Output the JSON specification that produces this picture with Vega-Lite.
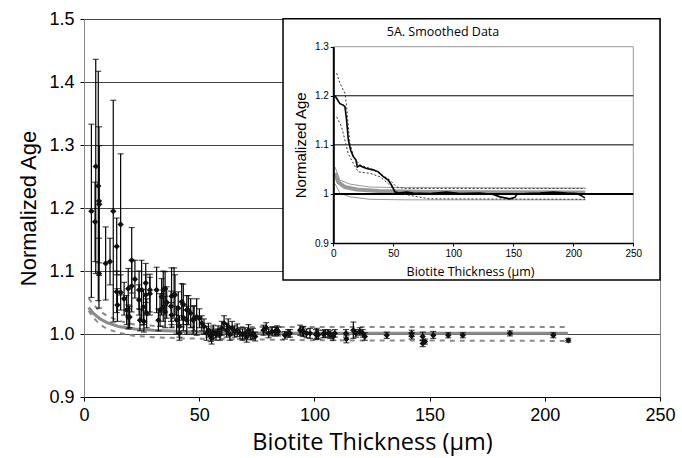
{
"$schema":"https://vega.github.io/schema/vega-lite/v6.json",
"width":576,"height":378,
"autosize":{"type":"none"},
"padding":{"left":84,"top":19,"right":22,"bottom":61},
"background":"white",
"config":{"view":{"stroke":"#888","strokeWidth":1},"font":"Liberation Sans"},
"datasets":{
"one":[{}],
"main":[
{"x":3.2,"y":1.195,"lo":1.058,"hi":1.333},
{"x":4.8,"y":1.178,"lo":1.115,"hi":1.241},
{"x":5.1,"y":1.266,"lo":1.096,"hi":1.436},
{"x":6.2,"y":1.235,"lo":1.053,"hi":1.417},
{"x":6.5,"y":1.211,"lo":1.093,"hi":1.329},
{"x":6.6,"y":1.206,"lo":1.113,"hi":1.299},
{"x":6.5,"y":1.096,"lo":1.041,"hi":1.152},
{"x":9.4,"y":1.112,"lo":1.054,"hi":1.170},
{"x":11.3,"y":1.115,"lo":1.078,"hi":1.152},
{"x":12.7,"y":1.195,"lo":1.019,"hi":1.371},
{"x":14.2,"y":1.139,"lo":1.094,"hi":1.184},
{"x":15.9,"y":1.174,"lo":1.062,"hi":1.286},
{"x":14.2,"y":1.067,"lo":1.034,"hi":1.100},
{"x":14.5,"y":1.046,"lo":1.020,"hi":1.072},
{"x":15.9,"y":1.066,"lo":1.038,"hi":1.094},
{"x":17.4,"y":1.056,"lo":1.030,"hi":1.082},
{"x":18.5,"y":1.038,"lo":1.015,"hi":1.061},
{"x":19.2,"y":1.027,"lo":1.008,"hi":1.046},
{"x":19.8,"y":1.027,"lo":1.010,"hi":1.044},
{"x":19.2,"y":1.072,"lo":1.040,"hi":1.104},
{"x":20.7,"y":1.076,"lo":1.035,"hi":1.117},
{"x":20.7,"y":1.117,"lo":1.065,"hi":1.169},
{"x":22.1,"y":1.087,"lo":1.057,"hi":1.117},
{"x":23.9,"y":1.070,"lo":1.040,"hi":1.100},
{"x":23.9,"y":1.054,"lo":1.030,"hi":1.078},
{"x":25.0,"y":1.070,"lo":1.023,"hi":1.117},
{"x":24.3,"y":1.022,"lo":1.005,"hi":1.039},
{"x":25.8,"y":1.043,"lo":1.015,"hi":1.071},
{"x":26.8,"y":1.081,"lo":1.050,"hi":1.112},
{"x":26.8,"y":1.062,"lo":1.030,"hi":1.094},
{"x":27.2,"y":1.033,"lo":1.010,"hi":1.056},
{"x":26.0,"y":1.020,"lo":1.003,"hi":1.037},
{"x":28.6,"y":1.070,"lo":1.035,"hi":1.095},
{"x":28.6,"y":1.064,"lo":1.030,"hi":1.090},
{"x":31.5,"y":1.070,"lo":1.034,"hi":1.106},
{"x":32.3,"y":1.022,"lo":1.005,"hi":1.040},
{"x":33.0,"y":1.038,"lo":1.012,"hi":1.064},
{"x":33.7,"y":1.059,"lo":1.030,"hi":1.088},
{"x":34.4,"y":1.070,"lo":1.040,"hi":1.100},
{"x":35.2,"y":1.072,"lo":1.045,"hi":1.099},
{"x":34.4,"y":1.042,"lo":1.020,"hi":1.064},
{"x":35.2,"y":1.035,"lo":1.010,"hi":1.060},
{"x":35.9,"y":1.050,"lo":1.025,"hi":1.075},
{"x":37.8,"y":1.044,"lo":1.020,"hi":1.068},
{"x":38.0,"y":1.030,"lo":1.010,"hi":1.050},
{"x":38.0,"y":1.060,"lo":1.015,"hi":1.105},
{"x":39.1,"y":1.063,"lo":1.025,"hi":1.105},
{"x":39.5,"y":1.062,"lo":1.030,"hi":1.094},
{"x":40.2,"y":1.022,"lo":1.000,"hi":1.044},
{"x":40.9,"y":1.041,"lo":1.015,"hi":1.067},
{"x":41.4,"y":1.012,"lo":0.995,"hi":1.029},
{"x":41.4,"y":1.001,"lo":0.990,"hi":1.012},
{"x":42.4,"y":1.051,"lo":1.022,"hi":1.080},
{"x":43.1,"y":1.047,"lo":1.015,"hi":1.079},
{"x":43.1,"y":1.026,"lo":1.005,"hi":1.047},
{"x":44.6,"y":1.022,"lo":1.000,"hi":1.044},
{"x":44.6,"y":1.038,"lo":1.015,"hi":1.061},
{"x":45.3,"y":1.038,"lo":1.015,"hi":1.061},
{"x":46.3,"y":1.033,"lo":1.010,"hi":1.056},
{"x":47.4,"y":1.022,"lo":1.000,"hi":1.044},
{"x":47.8,"y":1.025,"lo":1.005,"hi":1.045},
{"x":48.9,"y":1.027,"lo":0.998,"hi":1.056},
{"x":50.1,"y":1.025,"lo":1.010,"hi":1.040},
{"x":51.1,"y":1.017,"lo":1.005,"hi":1.029},
{"x":52.1,"y":1.012,"lo":1.000,"hi":1.024},
{"x":53.2,"y":1.001,"lo":0.990,"hi":1.012},
{"x":54.0,"y":1.006,"lo":0.995,"hi":1.017},
{"x":55.0,"y":0.998,"lo":0.988,"hi":1.008},
{"x":55.4,"y":0.993,"lo":0.984,"hi":1.002},
{"x":56.1,"y":1.004,"lo":0.994,"hi":1.014},
{"x":57.3,"y":0.999,"lo":0.990,"hi":1.008},
{"x":58.2,"y":1.004,"lo":0.995,"hi":1.013},
{"x":59.0,"y":0.999,"lo":0.990,"hi":1.008},
{"x":59.8,"y":1.009,"lo":0.998,"hi":1.020},
{"x":60.8,"y":1.017,"lo":1.005,"hi":1.029},
{"x":61.9,"y":1.006,"lo":0.995,"hi":1.017},
{"x":62.6,"y":1.012,"lo":1.000,"hi":1.024},
{"x":63.3,"y":0.999,"lo":0.990,"hi":1.008},
{"x":64.3,"y":1.009,"lo":0.998,"hi":1.020},
{"x":65.4,"y":1.004,"lo":0.995,"hi":1.013},
{"x":66.5,"y":1.006,"lo":0.996,"hi":1.016},
{"x":67.7,"y":1.001,"lo":0.992,"hi":1.010},
{"x":68.8,"y":0.999,"lo":0.990,"hi":1.008},
{"x":69.9,"y":1.001,"lo":0.992,"hi":1.010},
{"x":70.6,"y":0.995,"lo":0.987,"hi":1.003},
{"x":71.4,"y":1.006,"lo":0.997,"hi":1.015},
{"x":72.4,"y":0.999,"lo":0.991,"hi":1.007},
{"x":73.3,"y":1.001,"lo":0.993,"hi":1.009},
{"x":74.3,"y":0.996,"lo":0.989,"hi":1.003},
{"x":77.9,"y":1.006,"lo":0.998,"hi":1.014},
{"x":79.1,"y":1.010,"lo":1.002,"hi":1.018},
{"x":80.1,"y":1.001,"lo":0.994,"hi":1.008},
{"x":81.6,"y":1.004,"lo":0.997,"hi":1.011},
{"x":83.0,"y":1.004,"lo":0.997,"hi":1.011},
{"x":83.8,"y":1.006,"lo":0.999,"hi":1.013},
{"x":84.3,"y":1.004,"lo":0.997,"hi":1.011},
{"x":87.2,"y":0.998,"lo":0.992,"hi":1.004},
{"x":88.6,"y":1.001,"lo":0.995,"hi":1.007},
{"x":89.4,"y":1.001,"lo":0.995,"hi":1.007},
{"x":93.8,"y":1.006,"lo":0.998,"hi":1.014},
{"x":94.9,"y":1.004,"lo":0.997,"hi":1.011},
{"x":95.2,"y":1.004,"lo":0.996,"hi":1.012},
{"x":96.6,"y":1.001,"lo":0.994,"hi":1.008},
{"x":98.1,"y":1.001,"lo":0.993,"hi":1.009},
{"x":100.7,"y":0.999,"lo":0.991,"hi":1.007},
{"x":101.0,"y":1.001,"lo":0.993,"hi":1.009},
{"x":101.7,"y":0.999,"lo":0.992,"hi":1.006},
{"x":103.9,"y":1.000,"lo":0.994,"hi":1.006},
{"x":104.6,"y":1.001,"lo":0.995,"hi":1.007},
{"x":106.0,"y":1.001,"lo":0.995,"hi":1.007},
{"x":106.8,"y":0.999,"lo":0.993,"hi":1.005},
{"x":108.2,"y":0.996,"lo":0.990,"hi":1.002},
{"x":108.9,"y":1.001,"lo":0.995,"hi":1.007},
{"x":113.7,"y":1.001,"lo":0.995,"hi":1.007},
{"x":113.9,"y":0.992,"lo":0.986,"hi":0.998},
{"x":116.9,"y":1.006,"lo":0.993,"hi":1.019},
{"x":118.0,"y":1.001,"lo":0.995,"hi":1.007},
{"x":119.7,"y":1.004,"lo":0.998,"hi":1.010},
{"x":121.0,"y":1.001,"lo":0.995,"hi":1.007},
{"x":121.9,"y":0.996,"lo":0.990,"hi":1.002},
{"x":131.4,"y":0.998,"lo":0.993,"hi":1.003},
{"x":142.2,"y":0.997,"lo":0.992,"hi":1.002},
{"x":142.2,"y":1.001,"lo":0.996,"hi":1.006},
{"x":147.0,"y":0.996,"lo":0.990,"hi":1.003},
{"x":147.0,"y":0.985,"lo":0.980,"hi":0.990},
{"x":148.0,"y":0.988,"lo":0.984,"hi":0.992},
{"x":151.6,"y":0.998,"lo":0.993,"hi":1.004},
{"x":158.1,"y":0.998,"lo":0.994,"hi":1.002},
{"x":164.4,"y":0.998,"lo":0.994,"hi":1.002},
{"x":184.9,"y":1.001,"lo":0.997,"hi":1.005},
{"x":203.7,"y":0.998,"lo":0.994,"hi":1.002},
{"x":210.2,"y":0.990,"lo":0.987,"hi":0.993}
],
"curves":[
{"s":"upper","x":2,"y":1.057},{"s":"upper","x":4,"y":1.047},{"s":"upper","x":7,"y":1.036},{"s":"upper","x":10,"y":1.029},{"s":"upper","x":15,"y":1.021},{"s":"upper","x":22,"y":1.015},{"s":"upper","x":30,"y":1.013},{"s":"upper","x":43,"y":1.011},{"s":"upper","x":60,"y":1.011},{"s":"upper","x":210,"y":1.011},
{"s":"mid","x":2,"y":1.042},{"s":"mid","x":4,"y":1.033},{"s":"mid","x":7,"y":1.024},{"s":"mid","x":10,"y":1.018},{"s":"mid","x":15,"y":1.012},{"s":"mid","x":22,"y":1.008},{"s":"mid","x":30,"y":1.006},{"s":"mid","x":43,"y":1.004},{"s":"mid","x":60,"y":1.002},{"s":"mid","x":100,"y":1.001},{"s":"mid","x":210,"y":1.001},
{"s":"lower","x":2,"y":1.037},{"s":"lower","x":4,"y":1.026},{"s":"lower","x":7,"y":1.015},{"s":"lower","x":10,"y":1.008},{"s":"lower","x":15,"y":1.002},{"s":"lower","x":22,"y":0.997},{"s":"lower","x":30,"y":0.995},{"s":"lower","x":43,"y":0.993},{"s":"lower","x":60,"y":0.992},{"s":"lower","x":100,"y":0.990},{"s":"lower","x":210,"y":0.989}
],
"smooth":[
{"x":1.4,"y":1.200},{"x":5.5,"y":1.184},{"x":8.3,"y":1.181},{"x":9.7,"y":1.178},{"x":11.1,"y":1.150},{"x":12.5,"y":1.110},{"x":14.5,"y":1.089},{"x":16.7,"y":1.076},{"x":18.9,"y":1.069},{"x":20.0,"y":1.055},{"x":22.2,"y":1.058},{"x":24.4,"y":1.055},{"x":27.8,"y":1.052},{"x":33.3,"y":1.049},{"x":37.5,"y":1.045},{"x":41.7,"y":1.035},{"x":45.8,"y":1.028},{"x":48.6,"y":1.018},{"x":51.4,"y":1.004},{"x":54.2,"y":1.002},{"x":61.1,"y":1.004},{"x":66.7,"y":1.002},{"x":80.6,"y":1.001},{"x":94.4,"y":1.004},{"x":105.6,"y":1.001},{"x":122.2,"y":1.002},{"x":133.3,"y":0.999},{"x":138.9,"y":0.994},{"x":147.2,"y":0.990},{"x":151.4,"y":0.993},{"x":152.8,"y":0.999},{"x":161.1,"y":1.001},{"x":172.2,"y":1.002},{"x":183.3,"y":1.004},{"x":194.4,"y":1.002},{"x":202.8,"y":1.001},{"x":206.9,"y":0.996},{"x":209.7,"y":0.992}
],
"band":[
{"s":"hi","x":2.8,"y":1.246},{"s":"hi","x":5.6,"y":1.225},{"s":"hi","x":9.75,"y":1.205},{"s":"hi","x":11.1,"y":1.178},{"s":"hi","x":12.5,"y":1.137},{"s":"hi","x":13.9,"y":1.103},{"s":"hi","x":16.7,"y":1.076},{"s":"hi","x":22.2,"y":1.059},{"s":"hi","x":30.6,"y":1.052},{"s":"hi","x":38.9,"y":1.042},{"s":"hi","x":47.2,"y":1.028},{"s":"hi","x":52.8,"y":1.014},{"s":"hi","x":60,"y":1.011},{"s":"hi","x":210,"y":1.011},
{"s":"lo","x":2.8,"y":1.157},{"s":"lo","x":6.9,"y":1.137},{"s":"lo","x":12.5,"y":1.082},{"s":"lo","x":16.7,"y":1.062},{"s":"lo","x":20.8,"y":1.045},{"s":"lo","x":30.6,"y":1.042},{"s":"lo","x":38.9,"y":1.035},{"s":"lo","x":45.8,"y":1.021},{"s":"lo","x":52.8,"y":1.004},{"s":"lo","x":63.9,"y":0.997},{"s":"lo","x":80,"y":0.990},{"s":"lo","x":210,"y":0.989}
],
"igray":[
{"s":"up","x":1.4,"y":1.055},{"s":"up","x":5.6,"y":1.028},{"s":"up","x":13.9,"y":1.020},{"s":"up","x":30.6,"y":1.014},{"s":"up","x":50,"y":1.013},{"s":"up","x":210,"y":1.012},
{"s":"dn","x":1.4,"y":1.021},{"s":"dn","x":5.6,"y":1.001},{"s":"dn","x":13.9,"y":0.994},{"s":"dn","x":30.6,"y":0.989},{"s":"dn","x":60,"y":0.988},{"s":"dn","x":210,"y":0.988}
],
"ithick":[
{"x":1.4,"y":1.042},{"x":4.2,"y":1.024},{"x":9.7,"y":1.014},{"x":19.5,"y":1.009},{"x":38,"y":1.006},{"x":80,"y":1.004},{"x":210,"y":1.003}
]
},
"layer":[
{"layer":[
{"data":{"name":"curves"},"transform":[{"filter":"datum.s != 'mid'"}],
 "mark":{"type":"line","color":"#8a8a8a","strokeWidth":2,"strokeDash":[5,5]},
 "encoding":{
  "x":{"field":"x","type":"quantitative","scale":{"domain":[0,250],"nice":false},
   "axis":{"values":[0,50,100,150,200,250],"title":"Biotite Thickness (µm)","grid":false,"domainColor":"black","tickColor":"black","tickSize":4,"labelFontSize":18,"labelPadding":5,"labelColor":"black","labelFlush":false,"titleFont":"Open Sans","titleFontSize":23.5,"titleFontWeight":"normal","titleColor":"black","titlePadding":6}},
  "y":{"field":"y","type":"quantitative","scale":{"domain":[0.9,1.5],"nice":false,"zero":false},
   "axis":{"values":[0.9,1.0,1.1,1.2,1.3,1.4,1.5],"format":".1f","title":"Normalized Age","grid":true,"gridColor":"#444","gridOpacity":1,"domainColor":"#888","tickColor":"black","tickSize":4,"labelFontSize":18,"labelPadding":6,"labelColor":"black","titleFontSize":22,"titleFontWeight":"normal","titleColor":"black","titlePadding":8}},
  "detail":{"field":"s"}}},
{"data":{"name":"curves"},"transform":[{"filter":"datum.s == 'mid'"}],
 "mark":{"type":"line","color":"#8a8a8a","strokeWidth":3},
 "encoding":{"x":{"field":"x","type":"quantitative","scale":{"domain":[0,250],"nice":false}},"y":{"field":"y","type":"quantitative","scale":{"domain":[0.9,1.5],"nice":false,"zero":false}}}},
{"data":{"name":"main"},
 "mark":{"type":"rule","color":"black","strokeWidth":1.2},
 "encoding":{"x":{"field":"x","type":"quantitative","scale":{"domain":[0,250],"nice":false}},"y":{"field":"lo","type":"quantitative","scale":{"domain":[0.9,1.5],"nice":false,"zero":false}},"y2":{"field":"hi"}}},
{"data":{"name":"main"},
 "mark":{"type":"tick","orient":"horizontal","color":"black","size":6,"thickness":1.2},
 "encoding":{"x":{"field":"x","type":"quantitative","scale":{"domain":[0,250],"nice":false}},"y":{"field":"lo","type":"quantitative","scale":{"domain":[0.9,1.5],"nice":false,"zero":false}}}},
{"data":{"name":"main"},
 "mark":{"type":"tick","orient":"horizontal","color":"black","size":6,"thickness":1.2},
 "encoding":{"x":{"field":"x","type":"quantitative","scale":{"domain":[0,250],"nice":false}},"y":{"field":"hi","type":"quantitative","scale":{"domain":[0.9,1.5],"nice":false,"zero":false}}}},
{"data":{"name":"main"},
 "mark":{"type":"point","shape":"diamond","filled":true,"color":"#111","size":40,"opacity":1},
 "encoding":{"x":{"field":"x","type":"quantitative","scale":{"domain":[0,250],"nice":false}},"y":{"field":"y","type":"quantitative","scale":{"domain":[0.9,1.5],"nice":false,"zero":false}}}}
]},
{"layer":[
{"data":{"name":"one"},
 "mark":{"type":"rect","fill":"white","stroke":"black","strokeWidth":1.5},
 "encoding":{
  "x":{"datum":-41.9,"type":"quantitative","scale":{"domain":[0,250],"range":[249.3,549.3],"nice":false},
   "axis":{"orient":"bottom","offset":-154,"values":[0,50,100,150,200,250],"title":"Biotite Thickness (µm)","grid":false,"domainColor":"black","domainWidth":1.5,"tickColor":"black","tickSize":3,"labelFontSize":10,"labelPadding":2,"labelColor":"black","labelFlush":false,"titleFont":"Open Sans","titleFontSize":12.5,"titleFontWeight":"normal","titleColor":"black","titlePadding":7,"titleX":386,"zindex":1}},
  "x2":{"datum":272.25},
  "y":{"datum":1.357,"type":"quantitative","scale":{"domain":[0.9,1.3],"range":[224,27.7],"nice":false,"zero":false},
   "axis":{"orient":"left","offset":-249.3,"values":[0.9,1,1.1,1.2,1.3],"format":"~g","title":"Normalized Age","grid":false,"domainColor":"black","domainWidth":2,"tickColor":"black","tickSize":3,"labelFontSize":10,"labelPadding":2,"labelColor":"black","titleFontSize":15,"titleFontWeight":"normal","titleColor":"black","titlePadding":6,"zindex":1}},
  "y2":{"datum":0.8245}}},
{"data":{"name":"one"},
 "mark":{"type":"rule","color":"#999","strokeWidth":1},
 "encoding":{"x":{"datum":0,"type":"quantitative","scale":{"domain":[0,250],"range":[249.3,549.3],"nice":false}},"x2":{"datum":250},"y":{"datum":1.3,"type":"quantitative","scale":{"domain":[0.9,1.3],"range":[224,27.7],"nice":false,"zero":false}}}},
{"data":{"name":"one"},
 "mark":{"type":"rule","color":"#999","strokeWidth":1},
 "encoding":{"x":{"datum":250,"type":"quantitative","scale":{"domain":[0,250],"range":[249.3,549.3],"nice":false}},"y":{"datum":0.9,"type":"quantitative","scale":{"domain":[0.9,1.3],"range":[224,27.7],"nice":false,"zero":false}},"y2":{"datum":1.3}}},
{"data":{"name":"one"},
 "mark":{"type":"rule","color":"black","strokeWidth":1},
 "encoding":{"x":{"datum":0,"type":"quantitative","scale":{"domain":[0,250],"range":[249.3,549.3],"nice":false}},"x2":{"datum":250},"y":{"datum":1.2,"type":"quantitative","scale":{"domain":[0.9,1.3],"range":[224,27.7],"nice":false,"zero":false}}}},
{"data":{"name":"one"},
 "mark":{"type":"rule","color":"black","strokeWidth":1},
 "encoding":{"x":{"datum":0,"type":"quantitative","scale":{"domain":[0,250],"range":[249.3,549.3],"nice":false}},"x2":{"datum":250},"y":{"datum":1.1,"type":"quantitative","scale":{"domain":[0.9,1.3],"range":[224,27.7],"nice":false,"zero":false}}}},
{"data":{"name":"igray"},
 "mark":{"type":"line","color":"#999","strokeWidth":1},
 "encoding":{"x":{"field":"x","type":"quantitative","scale":{"domain":[0,250],"range":[249.3,549.3],"nice":false}},"y":{"field":"y","type":"quantitative","scale":{"domain":[0.9,1.3],"range":[224,27.7],"nice":false,"zero":false}},"detail":{"field":"s"}}},
{"data":{"name":"ithick"},
 "mark":{"type":"line","color":"#999","strokeWidth":4},
 "encoding":{"x":{"field":"x","type":"quantitative","scale":{"domain":[0,250],"range":[249.3,549.3],"nice":false}},"y":{"field":"y","type":"quantitative","scale":{"domain":[0.9,1.3],"range":[224,27.7],"nice":false,"zero":false}}}},
{"data":{"name":"one"},
 "mark":{"type":"rule","color":"black","strokeWidth":2},
 "encoding":{"x":{"datum":0,"type":"quantitative","scale":{"domain":[0,250],"range":[249.3,549.3],"nice":false}},"x2":{"datum":250},"y":{"datum":1.0,"type":"quantitative","scale":{"domain":[0.9,1.3],"range":[224,27.7],"nice":false,"zero":false}}}},
{"data":{"name":"band"},
 "mark":{"type":"line","color":"#333","strokeWidth":1,"strokeDash":[2,2]},
 "encoding":{"x":{"field":"x","type":"quantitative","scale":{"domain":[0,250],"range":[249.3,549.3],"nice":false}},"y":{"field":"y","type":"quantitative","scale":{"domain":[0.9,1.3],"range":[224,27.7],"nice":false,"zero":false}},"detail":{"field":"s"}}},
{"data":{"name":"smooth"},
 "mark":{"type":"line","color":"black","strokeWidth":1.6},
 "encoding":{"x":{"field":"x","type":"quantitative","scale":{"domain":[0,250],"range":[249.3,549.3],"nice":false}},"y":{"field":"y","type":"quantitative","scale":{"domain":[0.9,1.3],"range":[224,27.7],"nice":false,"zero":false}}}},
{"data":{"name":"one"},
 "mark":{"type":"text","font":"Open Sans","fontSize":12.5,"color":"black","baseline":"middle","align":"center"},
 "encoding":{"text":{"value":"5A. Smoothed Data"},"x":{"datum":91.4,"type":"quantitative","scale":{"domain":[0,250],"range":[249.3,549.3],"nice":false}},"y":{"datum":1.33,"type":"quantitative","scale":{"domain":[0.9,1.3],"range":[224,27.7],"nice":false,"zero":false}}}}
]}
],
"resolve":{"scale":{"x":"independent","y":"independent"}}
}
